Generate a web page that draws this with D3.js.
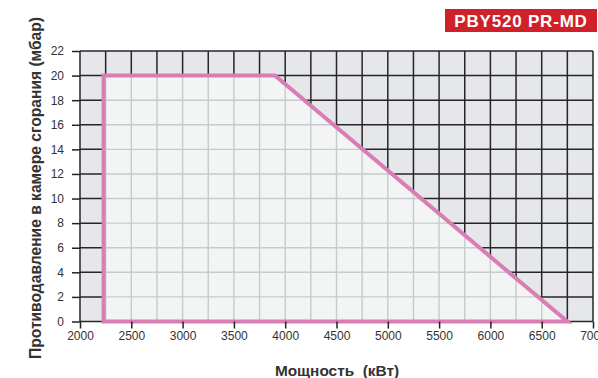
<!DOCTYPE html>
<html><head><meta charset="utf-8">
<script src="https://cdn.jsdelivr.net/npm/d3@7"></script>
<style>body{margin:0;background:#fff}svg{display:block}</style>
</head><body>
<svg id="c" width="598" height="378"></svg>
<script>
const title = "PBY520 PR-MD";
const xLabel = "Мощность  (кВт)";
const yLabel = "Противодавление в камере сгорания (мбар)";
const xTicks = [2000, 2500, 3000, 3500, 4000, 4500, 5000, 5500, 6000, 6500, 7000];
const yTicks = [0, 2, 4, 6, 8, 10, 12, 14, 16, 18, 20, 22];
const envPower = [2230, 2230, 3900, 6750];
const envPressure = [0, 20, 20, 0];

const svg = d3.select("#c");
const x = d3.scaleLinear().domain([2000, 7000]).range([80, 593]);
const y = d3.scaleLinear().domain([0, 22]).range([321.5, 51]);
const font = "'Liberation Sans', Arial, sans-serif";

const gridX = d3.range(2000, 7001, 250);
const gridY = d3.range(0, 23, 2);

// outer background
svg.append("rect").attr("x", x(2000)).attr("y", y(22))
  .attr("width", x(7000) - x(2000)).attr("height", y(0) - y(22)).attr("fill", "#e5e7ea");
const gDark = svg.append("g").attr("stroke", "#262626").attr("stroke-width", 1.5);
gridX.forEach(v => gDark.append("line").attr("x1", x(v)).attr("x2", x(v)).attr("y1", y(22)).attr("y2", y(0)));
gridY.forEach(v => gDark.append("line").attr("y1", y(v)).attr("y2", y(v)).attr("x1", x(2000)).attr("x2", x(7000)));

// envelope
const pts = envPower.map((p, i) => [x(p), y(envPressure[i])]);
svg.append("clipPath").attr("id", "env").append("polygon").attr("points", pts.map(d => d.join(",")).join(" "));
const inner = svg.append("g").attr("clip-path", "url(#env)");
inner.append("rect").attr("x", x(2000)).attr("y", y(22)).attr("width", x(7000) - x(2000)).attr("height", y(0) - y(22)).attr("fill", "#f3f4f4");
const gLight = inner.append("g").attr("stroke", "#c6cbce").attr("stroke-width", 1.4);
gridX.forEach(v => gLight.append("line").attr("x1", x(v)).attr("x2", x(v)).attr("y1", y(22)).attr("y2", y(0)));
gridY.forEach(v => gLight.append("line").attr("y1", y(v)).attr("y2", y(v)).attr("x1", x(2000)).attr("x2", x(7000)));
svg.append("polygon").attr("points", pts.map(d => d.join(",")).join(" "))
  .attr("fill", "none").attr("stroke", "#da7db5").attr("stroke-width", 4).attr("stroke-linejoin", "miter");

// axes
const xAxis = svg.append("g").attr("transform", `translate(0,${y(0)})`)
  .call(d3.axisBottom(x).tickValues(xTicks).tickSize(7).tickPadding(3).tickFormat(d3.format("d")));
const yAxis = svg.append("g").attr("transform", `translate(${x(2000)},0)`)
  .call(d3.axisLeft(y).tickValues(yTicks).tickSize(8).tickPadding(8).tickFormat(d3.format("d")));
[xAxis, yAxis].forEach(a => {
  a.select(".domain").remove();
  a.selectAll("line").attr("stroke", "#222").attr("stroke-width", 1.5);
  a.selectAll("text").attr("font-family", font).attr("font-size", 12).attr("fill", "#333");
});

// axis titles
svg.append("text").attr("x", 337).attr("y", 376).attr("text-anchor", "middle")
  .attr("font-family", font).attr("font-weight", "bold").attr("font-size", 15.4).attr("fill", "#333")
  .style("white-space", "pre").text(xLabel);
svg.append("text").attr("transform", "translate(41,188) rotate(-90)").attr("text-anchor", "middle")
  .attr("font-family", font).attr("font-weight", "bold").attr("font-size", 15.6).attr("fill", "#333")
  .text(yLabel);

// title badge
svg.append("rect").attr("x", 445).attr("y", 9).attr("width", 152).attr("height", 23).attr("fill", "#d0202a");
svg.append("text").attr("x", 521).attr("y", 27).attr("text-anchor", "middle")
  .attr("font-family", font).attr("font-weight", "bold").attr("font-size", 17).attr("fill", "#fff")
  .attr("letter-spacing", 0.8).text(title);
</script>
</body></html>
